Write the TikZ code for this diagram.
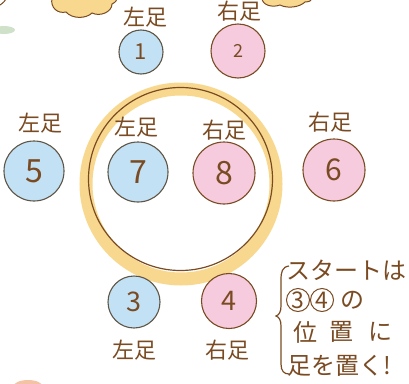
\documentclass[tikz,border=0pt]{standalone}
\usepackage{fontspec}
\setmainfont{Noto Sans CJK JP}
\definecolor{ink}{HTML}{7A4B22}
\definecolor{bluef}{HTML}{C3E1F4}
\definecolor{pinkf}{HTML}{F5CBDD}
\definecolor{ringy}{HTML}{F8D88E}
\definecolor{bluel}{HTML}{5E5545}
\definecolor{greenb}{HTML}{CFE2C9}
\definecolor{orangeb}{HTML}{F4C2A4}
\tikzset{
  foot/.style={font=\fontsize{22}{22}\selectfont, text=ink, inner sep=0pt},
  lspot/.style={circle, draw=bluel, fill=bluef, line width=1.1pt, inner sep=0pt, text=ink},
  rspot/.style={circle, draw=ink, fill=pinkf, line width=1.1pt, inner sep=0pt, text=ink},
  note/.style={font=\fontsize{24}{24}\selectfont, text=ink, inner sep=0pt},
  smallc/.style={circle, draw=ink, line width=1pt, minimum size=23pt, inner sep=0pt, text=ink, font=\fontsize{23}{23}\selectfont},
}
\begin{document}
\begin{tikzpicture}[x=1pt,y=-1pt]
\useasboundingbox (0,0) rectangle (409,383);
% decorations at edges
\fill[ringy] (52,-2) .. controls (50,8) and (58,14) .. (66,12) .. controls (72,19) and (86,19) .. (92,13) .. controls (100,17) and (112,12) .. (112,4) .. controls (116,2) and (117,0) .. (117,-2) -- cycle;
\draw[ink, line width=1pt] (52,-2) .. controls (50,8) and (58,14) .. (66,12) .. controls (72,19) and (86,19) .. (92,13) .. controls (100,17) and (112,12) .. (112,4) .. controls (116,2) and (117,0) .. (117,-2);
\fill[ringy] (262,-2) .. controls (262,5) and (272,8) .. (280,5) .. controls (288,9) and (300,7) .. (305,2) .. controls (310,2) and (312,0) .. (312,-2) -- cycle;
\draw[ink, line width=1pt] (262,-2) .. controls (262,5) and (272,8) .. (280,5) .. controls (288,9) and (300,7) .. (305,2) .. controls (310,2) and (312,0) .. (312,-2);
\draw[ink, line width=1pt] (0,5) .. controls (3,3) and (5,1) .. (6,-1);
\fill[greenb] (4,30) ellipse [x radius=11, y radius=4];
\fill[orangeb] (28,387) ellipse [x radius=15, y radius=7];
% ring
\draw[ringy, line width=13pt] (181,184) ellipse [x radius=95, y radius=95];
\draw[ink, line width=1.2pt] (180.5,179) ellipse [x radius=92, y radius=91.5];
% spots
\node[lspot, minimum size=44pt, font=\fontsize{22}{22}\selectfont] (n1) at (141,52) {1};
\node[rspot, minimum size=54pt, font=\fontsize{18}{18}\selectfont] (n2) at (238,51) {2};
\node[lspot, minimum size=60pt, font=\fontsize{32}{32}\selectfont] (n5) at (34,171) {5};
\node[lspot, minimum size=60pt, font=\fontsize{32}{32}\selectfont] (n7) at (138,172) {7};
\node[rspot, minimum size=62pt, font=\fontsize{32}{32}\selectfont] (n8) at (224,173) {8};
\node[rspot, minimum size=62pt, font=\fontsize{30}{30}\selectfont] (n6) at (334,170) {6};
\node[lspot, minimum size=52pt, font=\fontsize{27}{27}\selectfont] (n3) at (134,302) {3};
\node[rspot, minimum size=55pt, font=\fontsize{27}{27}\selectfont] (n4) at (229,301) {4};
% labels
\node[foot] (l1) at (145,17) {左足};
\node[foot] (l2) at (239,11) {右足};
\node[foot] (l5) at (40,123) {左足};
\node[foot] (l7) at (136,127) {左足};
\node[foot] (l8) at (224,130) {右足};
\node[foot] (l6) at (330,122) {右足};
\node[foot] (l3) at (134,350) {左足};
\node[foot] (l4) at (227,350) {右足};
% brace
\draw[ink, line width=1.2pt] (289,266) .. controls (282,267) and (281,272) .. (281,280) -- (281,306) .. controls (281,312) and (279,315) .. (276,316) .. controls (279,317) and (281,320) .. (281,326) -- (281,364) .. controls (281,371) and (284,374) .. (289,374);
% note text
\node[note, anchor=west] (t1) at (286,270) {スタートは};
\node[smallc] (c3) at (298,300) {3};
\node[smallc] (c4) at (322,300) {4};
\node[note] (no) at (352,300) {の};
\node[note] (t3a) at (305,332) {位};
\node[note] (t3b) at (341,332) {置};
\node[note] (t3c) at (380,332) {に};
\node[note, anchor=west] (t4) at (287,366) {足を置く!};
\end{tikzpicture}
\end{document}
